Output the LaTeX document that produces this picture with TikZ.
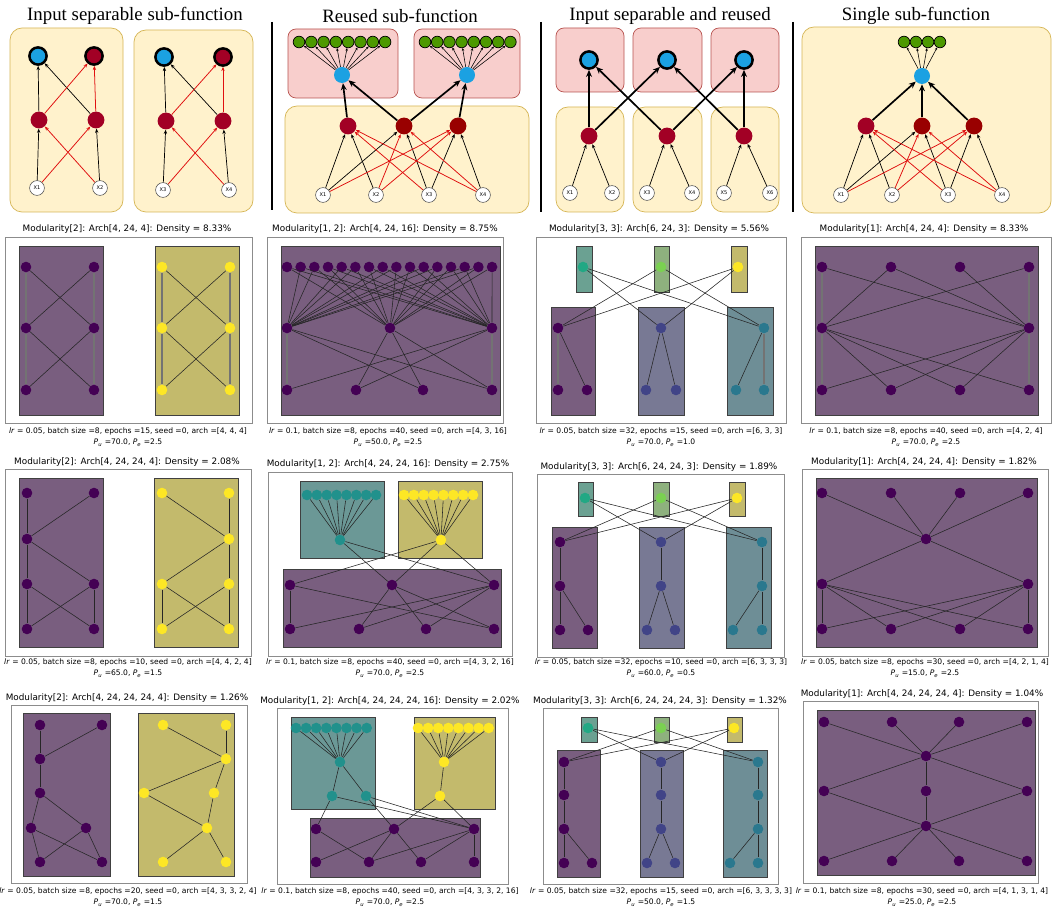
\documentclass[tikz,border=0pt]{standalone}
\usepackage{fontspec}
\setmainfont{Liberation Serif}
\setsansfont{DejaVu Sans}
\usetikzlibrary{arrows.meta}

\definecolor{vpurple}{HTML}{440154}
\definecolor{vindigo}{HTML}{414487}
\definecolor{vblue}{HTML}{2A788E}
\definecolor{vteal}{HTML}{21918C}
\definecolor{vgreen}{HTML}{22A884}
\definecolor{vlime}{HTML}{7AD151}
\definecolor{vyellow}{HTML}{FDE725}
\definecolor{bggrey}{RGB}{156,156,156}
\definecolor{boxyellow}{HTML}{FFF2CC}
\definecolor{boxyellowline}{HTML}{D6B656}
\definecolor{boxpink}{HTML}{F8CECC}
\definecolor{boxpinkline}{HTML}{B85450}
\definecolor{outblue}{HTML}{1BA1E2}
\definecolor{crimson}{HTML}{A20025}
\definecolor{darkred}{HTML}{990000}
\definecolor{leafgreen}{HTML}{4D9900}
\definecolor{edgered}{HTML}{E01010}

\tikzset{
    yellowbox/.style={draw=boxyellowline, fill=boxyellow, rounded corners=0.3cm, line width=0.5pt},
    pinkbox/.style={draw=boxpinkline, fill=boxpink, rounded corners=0.2cm, line width=0.5pt},
    outnode/.style={circle, draw=black, line width=1.8pt, fill=#1, minimum size=0.43cm, inner sep=0pt},
    hidnode/.style={circle, fill=#1, minimum size=0.42cm, inner sep=0pt},
    bluenode/.style={circle, fill=outblue, minimum size=0.4cm, inner sep=0pt},
    leafnode/.style={circle, draw=black, line width=0.5pt, fill=leafgreen, minimum size=0.29cm, inner sep=0pt},
    innode/.style={circle, draw=black!70, line width=0.4pt, fill=white, minimum size=0.37cm, inner sep=0pt, font=\sffamily\fontsize{3.6}{4}\selectfont},
    thinarrow/.style={draw=black, line width=0.5pt, -{Stealth[length=3pt,width=2.4pt]}},
    redarrow/.style={draw=edgered, line width=0.55pt, -{Stealth[length=3pt,width=2.4pt]}},
    thickarrow/.style={draw=black, line width=1.2pt, -{Stealth[length=5pt,width=4.2pt]}},
    leafarrow/.style={draw=black, line width=0.4pt, -{Stealth[length=2pt,width=1.8pt]}},
    sepline/.style={draw=black, line width=1.8pt},
    axframe/.style={draw=black!45, line width=0.6pt},
    gbox/.style={draw=black!75, line width=0.6pt, fill=#1!40!bggrey},
    gnode/.style={circle, fill=#1, minimum size=0.265cm, inner sep=0pt},
    gedge/.style={draw=black!85, line width=0.4pt},
    vedge/.style={draw=black!55, line width=1.2pt},
    toptitle/.style={font=\fontsize{13.4}{16}\selectfont},
    ptitle/.style={font=\sffamily\fontsize{6.3}{7.5}\selectfont},
    pcap/.style={font=\sffamily\fontsize{5.4}{7.8}\selectfont, align=center}
}

\newcommand{\hparams}[6]{\textit{lr}~=~#1, batch size =#2, epochs =#3, seed =0, arch =[#4]\\\textit{P}\textsubscript{\textit{u}} =#5, \textit{P}\textsubscript{\textit{e}} =#6}

\begin{document}
\begin{tikzpicture}[x=0.025cm, y=-0.025cm]
        \fill[white] (0,0) rectangle (1053,911);
        \useasboundingbox (0,0) rectangle (1053,911);

        \node[toptitle] (title1) at (135,16) {Input separable sub-function};
        \draw[yellowbox] (10,28) rectangle (123,212);
        \draw[yellowbox] (134,30) rectangle (253,212);
        \node[outnode=outblue] (t1o1) at (38,56) {};
        \node[outnode=crimson] (t1o2) at (94,56) {};
        \node[outnode=outblue] (t1o3) at (164,57) {};
        \node[outnode=crimson] (t1o4) at (223,57) {};
        \node[hidnode=crimson] (t1h1) at (39,120) {};
        \node[hidnode=crimson] (t1h2) at (96,120) {};
        \node[hidnode=crimson] (t1h3) at (166,121) {};
        \node[hidnode=crimson] (t1h4) at (223,121) {};
        \node[innode] (t1x1) at (37,188) {X1};
        \node[innode] (t1x2) at (100,188) {X2};
        \node[innode] (t1x3) at (163,190) {X3};
        \node[innode] (t1x4) at (229,190) {X4};
        \foreach \p/\q in {x1/h1, x2/h2, h1/o1, h2/o1, x3/h3, x4/h4, h3/o3, h4/o3}
            \draw[thinarrow] (t1\p) -- (t1\q);
        \foreach \p/\q in {x1/h2, x2/h1, h1/o2, h2/o2, x3/h4, x4/h3, h3/o4, h4/o4}
            \draw[redarrow] (t1\p) -- (t1\q);
        \draw[sepline] (272,22) -- (272,210);

        \node[toptitle] (title2) at (400,16) {Reused sub-function};
        \draw[pinkbox] (288,29) rectangle (398,98);
        \draw[pinkbox] (414,29) rectangle (520,98);
        \draw[yellowbox] (285,106) rectangle (529,213);
        \foreach \i in {1,...,8} {
            \node[leafnode] (t2g\i) at ({299+12.3*(\i-1)},42) {};
            \node[leafnode] (t2k\i) at ({425+12.2*(\i-1)},42) {};
        }
        \node[bluenode] (t2b1) at (342,75) {};
        \node[bluenode] (t2b2) at (467,75) {};
        \node[hidnode=crimson] (t2h1) at (348,126) {};
        \node[hidnode=darkred] (t2h2) at (404,126) {};
        \node[hidnode=darkred] (t2h3) at (458,126) {};
        \node[innode] (t2x1) at (323,195) {X1};
        \node[innode] (t2x2) at (376,195) {X2};
        \node[innode] (t2x3) at (429,195) {X3};
        \node[innode] (t2x4) at (483,195) {X4};
        \foreach \i in {1,...,8} {
            \draw[leafarrow] (t2b1) -- (t2g\i);
            \draw[leafarrow] (t2b2) -- (t2k\i);
        }
        \foreach \p/\q in {h1/b1, h2/b1, h2/b2, h3/b2}
            \draw[thickarrow] (t2\p) -- (t2\q);
        \foreach \p/\q in {x1/h1, x1/h2, x2/h1, x3/h2, x3/h3, x4/h3}
            \draw[thinarrow] (t2\p) -- (t2\q);
        \foreach \p/\q in {x1/h3, x2/h2, x2/h3, x3/h1, x4/h1, x4/h2}
            \draw[redarrow] (t2\p) -- (t2\q);
        \draw[sepline] (541,22) -- (541,212);

        \node[toptitle] (title3) at (670,16) {Input separable and reused};
        \foreach \a/\b in {556/624, 633/702, 711/779} {
            \draw[pinkbox] (\a,28) rectangle (\b,92);
            \draw[yellowbox] (\a,107) rectangle (\b,212);
        }
        \foreach \i/\x in {1/589, 2/667, 3/744} {
            \node[outnode=outblue] (t3o\i) at (\x,60) {};
            \node[hidnode=crimson] (t3h\i) at (\x,136) {};
        }
        \foreach \i/\x in {1/570, 2/612, 3/647, 4/692, 5/724, 6/770}
            \node[innode] (t3x\i) at (\x,193) {X\i};
        \foreach \p/\q in {x1/h1, x2/h1, x3/h2, x4/h2, x5/h3, x6/h3}
            \draw[thinarrow] (t3\p) -- (t3\q);
        \foreach \p/\q in {h1/o1, h1/o2, h2/o1, h2/o3, h3/o2, h3/o3}
            \draw[thickarrow] (t3\p) -- (t3\q);
        \draw[sepline] (793,22) -- (793,212);

        \node[toptitle] (title4) at (916,16) {Single sub-function};
        \draw[yellowbox] (802,27) rectangle (1051,213);
        \foreach \i in {1,...,4}
            \node[leafnode] (t4g\i) at ({904+12*(\i-1)},42) {};
        \node[bluenode] (t4b) at (922,76) {};
        \node[hidnode=crimson] (t4h1) at (866,126) {};
        \node[hidnode=darkred] (t4h2) at (922,126) {};
        \node[hidnode=darkred] (t4h3) at (974,126) {};
        \node[innode] (t4x1) at (841,195) {X1};
        \node[innode] (t4x2) at (892,195) {X2};
        \node[innode] (t4x3) at (948,195) {X3};
        \node[innode] (t4x4) at (1002,195) {X4};
        \foreach \i in {1,...,4}
            \draw[leafarrow] (t4b) -- (t4g\i);
        \foreach \i in {1,2,3}
            \draw[thickarrow] (t4h\i) -- (t4b);
        \foreach \p/\q in {x1/h1, x1/h2, x2/h1, x3/h2, x3/h3, x4/h3}
            \draw[thinarrow] (t4\p) -- (t4\q);
        \foreach \p/\q in {x1/h3, x2/h2, x2/h3, x3/h1, x4/h1, x4/h2}
            \draw[redarrow] (t4\p) -- (t4\q);

        \node[ptitle] (a1title) at (127,229) {Modularity[2]: Arch[4, 24, 4]: Density = 8.33\%};
        \draw[axframe] (5,237) rectangle (252,423);
        \draw[gbox=vpurple] (19,246) rectangle (103,415);
        \draw[gbox=vyellow] (155,246) rectangle (239,415);
        \foreach \i/\x/\y in {1/26/267, 2/94/267, 3/26/328, 4/94/328, 5/26/390, 6/94/390} {
            \node[gnode=vpurple] (a1p\i) at (\x,\y) {};
            \node[gnode=vyellow] (a1y\i) at (\x+136,\y) {};
        }
        \foreach \p/\q in {1/3, 2/4, 3/5, 4/6} {
            \draw[vedge] (a1p\p) -- (a1p\q);
            \draw[vedge] (a1y\p) -- (a1y\q);
        }
        \foreach \p/\q in {1/4, 2/3, 3/6, 4/5} {
            \draw[gedge] (a1p\p) -- (a1p\q);
            \draw[gedge] (a1y\p) -- (a1y\q);
        }
        \node[pcap] (a1cap) at (128,437) {\hparams{0.05}{8}{15}{4, 4, 4}{70.0}{2.5}};

        \node[ptitle] (b1title) at (385,229) {Modularity[1, 2]: Arch[4, 24, 16]: Density = 8.75\%};
        \draw[axframe] (267,237) rectangle (503,423);
        \draw[gbox=vpurple] (281,246) rectangle (500,415);
        \foreach \i in {1,...,16}
            \node[gnode=vpurple] (b1t\i) at ({287+13.67*(\i-1)},267) {};
        \foreach \i/\x in {1/287, 2/390, 3/492}
            \node[gnode=vpurple] (b1m\i) at (\x,328) {};
        \foreach \i/\x in {1/287, 2/356, 3/423, 4/492}
            \node[gnode=vpurple] (b1q\i) at (\x,390) {};
        \foreach \i/\u/\v in {1/2/3, 2/1/3, 3/1/2, 4/2/3, 5/1/3, 6/1/2, 7/2/3, 8/1/3, 9/1/2, 10/2/3, 11/1/3, 12/1/2, 13/2/3, 14/1/3, 15/1/2, 16/2/3} {
            \draw[gedge] (b1m\u) -- (b1t\i);
            \draw[gedge] (b1m\v) -- (b1t\i);
        }
        \foreach \p/\q in {1/3, 1/4, 2/2, 2/3, 2/4, 3/1, 3/2}
            \draw[gedge] (b1m\p) -- (b1q\q);
        \draw[vedge] (b1m1) -- (b1q1);
        \draw[vedge] (b1m3) -- (b1q4);
        \node[pcap] (b1cap) at (388,437) {\hparams{0.1}{8}{40}{4, 3, 16}{50.0}{2.5}};

        \node[ptitle] (c1title) at (659,229) {Modularity[3, 3]: Arch[6, 24, 3]: Density = 5.56\%};
        \draw[axframe] (536,237) rectangle (786,423);
        \draw[gbox=vgreen] (576,246) rectangle (592,292);
        \draw[gbox=vlime] (654,246) rectangle (669,292);
        \draw[gbox=vyellow] (731,246) rectangle (747,292);
        \draw[gbox=vpurple] (551,307) rectangle (595,415);
        \draw[gbox=vindigo] (638,307) rectangle (684,415);
        \draw[gbox=vblue] (727,307) rectangle (773,415);
        \node[gnode=vgreen] (c1s1) at (583,267) {};
        \node[gnode=vlime] (c1s2) at (661,267) {};
        \node[gnode=vyellow] (c1s3) at (738,267) {};
        \node[gnode=vpurple] (c1l1) at (558,328) {};
        \node[gnode=vpurple] (c1l2) at (558,390) {};
        \node[gnode=vpurple] (c1l3) at (587,390) {};
        \node[gnode=vindigo] (c1m1) at (661,328) {};
        \node[gnode=vindigo] (c1m2) at (646,390) {};
        \node[gnode=vindigo] (c1m3) at (676,390) {};
        \node[gnode=vblue] (c1r1) at (764,328) {};
        \node[gnode=vblue] (c1r2) at (736,390) {};
        \node[gnode=vblue] (c1r3) at (764,390) {};
        \foreach \p/\q in {s1/m1, s1/r1, s2/l1, s2/r1, s3/l1, s3/m1, l1/l3, m1/m2, m1/m3, r1/r2}
            \draw[gedge] (c1\p) -- (c1\q);
        \draw[vedge] (c1l1) -- (c1l2);
        \draw[vedge] (c1r1) -- (c1r3);
        \node[pcap] (c1cap) at (661,437) {\hparams{0.05}{32}{15}{6, 3, 3}{70.0}{1.0}};

        \node[ptitle] (d1title) at (924,229) {Modularity[1]: Arch[4, 24, 4]: Density = 8.33\%};
        \draw[axframe] (801,237) rectangle (1051,423);
        \draw[gbox=vpurple] (815,246) rectangle (1038,415);
        \foreach \i/\x in {1/822, 2/891, 3/960, 4/1029} {
            \node[gnode=vpurple] (d1t\i) at (\x,267) {};
            \node[gnode=vpurple] (d1q\i) at (\x,390) {};
        }
        \node[gnode=vpurple] (d1m1) at (822,328) {};
        \node[gnode=vpurple] (d1m2) at (1029,328) {};
        \foreach \p/\q in {1/2, 1/4, 2/1, 2/2, 2/3}
            \draw[gedge] (d1m\p) -- (d1t\q);
        \foreach \p/\q in {1/2, 1/3, 1/4, 2/1, 2/2, 2/3}
            \draw[gedge] (d1m\p) -- (d1q\q);
        \draw[vedge] (d1m1) -- (d1t1);
        \draw[vedge] (d1m2) -- (d1t4);
        \draw[vedge] (d1m1) -- (d1q1);
        \draw[vedge] (d1m2) -- (d1q4);
        \node[pcap] (d1cap) at (926,437) {\hparams{0.1}{8}{40}{4, 2, 4}{70.0}{2.5}};

        \node[ptitle] (a2title) at (127,462) {Modularity[2]: Arch[4, 24, 24, 4]: Density = 2.08\%};
        \draw[axframe] (5,469) rectangle (251,656);
        \draw[gbox=vpurple] (19,478) rectangle (103,647);
        \draw[gbox=vyellow] (154,478) rectangle (238,647);
        \foreach \i/\x/\y in {1/27/493, 2/94/493, 3/27/539, 4/27/584, 5/94/584, 6/27/629, 7/94/629}
            \node[gnode=vpurple] (a2p\i) at (\x,\y) {};
        \foreach \i/\x/\y in {1/162/493, 2/229/493, 3/229/539, 4/162/584, 5/229/584, 6/162/629, 7/229/629}
            \node[gnode=vyellow] (a2y\i) at (\x,\y) {};
        \foreach \p/\q in {1/3, 2/3, 3/4, 3/5, 4/6, 4/7, 5/6, 5/7} {
            \draw[gedge] (a2p\p) -- (a2p\q);
            \draw[gedge] (a2y\p) -- (a2y\q);
        }
        \node[pcap] (a2cap) at (128,668) {\hparams{0.05}{8}{10}{4, 4, 2, 4}{65.0}{1.5}};

        \node[ptitle] (b2title) at (388,464) {Modularity[1, 2]: Arch[4, 24, 24, 16]: Density = 2.75\%};
        \draw[axframe] (268,472) rectangle (512,656);
        \draw[gbox=vteal] (300,481) rectangle (384,558);
        \draw[gbox=vyellow] (398,481) rectangle (482,558);
        \draw[gbox=vpurple] (283,569) rectangle (501,647);
        \foreach \i in {1,...,8} {
            \node[gnode=vteal] (b2g\i) at ({307+9.86*(\i-1)},495) {};
            \node[gnode=vyellow] (b2h\i) at ({404+9.86*(\i-1)},495) {};
        }
        \node[gnode=vteal] (b2tm) at (340,540) {};
        \node[gnode=vyellow] (b2ym) at (441,540) {};
        \foreach \i/\x in {1/290, 2/392, 3/494}
            \node[gnode=vpurple] (b2m\i) at (\x,585) {};
        \foreach \i/\x in {1/290, 2/359, 3/426, 4/494}
            \node[gnode=vpurple] (b2q\i) at (\x,629) {};
        \foreach \i in {1,...,8} {
            \draw[gedge] (b2tm) -- (b2g\i);
            \draw[gedge] (b2ym) -- (b2h\i);
        }
        \foreach \p/\q in {tm/m2, tm/m3, ym/m1, ym/m2, ym/m3}
            \draw[gedge] (b2\p) -- (b2\q);
        \foreach \p/\q in {1/1, 1/4, 2/2, 2/3, 2/4, 3/1, 3/2, 3/3}
            \draw[gedge] (b2m\p) -- (b2q\q);
        \node[pcap] (b2cap) at (390,668) {\hparams{0.1}{8}{40}{4, 3, 2, 16}{70.0}{2.5}};

        \node[ptitle] (c2title) at (659,467) {Modularity[3, 3]: Arch[6, 24, 24, 3]: Density = 1.89\%};
        \draw[axframe] (537,474) rectangle (784,657);
        \draw[gbox=vgreen] (578,482) rectangle (593,516);
        \draw[gbox=vlime] (653,482) rectangle (669,516);
        \draw[gbox=vyellow] (729,482) rectangle (745,516);
        \draw[gbox=vpurple] (552,527) rectangle (597,648);
        \draw[gbox=vindigo] (639,527) rectangle (684,648);
        \draw[gbox=vblue] (726,527) rectangle (771,648);
        \node[gnode=vgreen] (c2s1) at (585,498) {};
        \node[gnode=vlime] (c2s2) at (661,498) {};
        \node[gnode=vyellow] (c2s3) at (737,498) {};
        \foreach \i/\x/\y in {1/560/542, 2/560/586, 3/560/630, 4/588/630}
            \node[gnode=vpurple] (c2l\i) at (\x,\y) {};
        \foreach \i/\x/\y in {1/661/542, 2/661/586, 3/647/630, 4/675/630}
            \node[gnode=vindigo] (c2m\i) at (\x,\y) {};
        \foreach \i/\x/\y in {1/762/542, 2/762/586, 3/733/630, 4/762/630}
            \node[gnode=vblue] (c2r\i) at (\x,\y) {};
        \foreach \p/\q in {s1/m1, s1/r1, s2/l1, s2/r1, s3/l1, s3/m1, l1/l2, l2/l3, l2/l4, m1/m2, m2/m3, m2/m4, r1/r2, r2/r3, r2/r4}
            \draw[gedge] (c2\p) -- (c2\q);
        \node[pcap] (c2cap) at (661,668) {\hparams{0.05}{32}{10}{6, 3, 3, 3}{60.0}{0.5}};

        \node[ptitle] (d2title) at (924,462) {Modularity[1]: Arch[4, 24, 24, 4]: Density = 1.82\%};
        \draw[axframe] (802,469) rectangle (1048,656);
        \draw[gbox=vpurple] (816,478) rectangle (1037,647);
        \foreach \i/\x in {1/822, 2/891, 3/960, 4/1028} {
            \node[gnode=vpurple] (d2t\i) at (\x,493) {};
            \node[gnode=vpurple] (d2q\i) at (\x,629) {};
        }
        \node[gnode=vpurple] (d2c) at (926,539) {};
        \node[gnode=vpurple] (d2m1) at (822,584) {};
        \node[gnode=vpurple] (d2m2) at (1028,584) {};
        \foreach \i in {1,...,4} {
            \draw[gedge] (d2c) -- (d2t\i);
            \draw[gedge] (d2m1) -- (d2q\i);
            \draw[gedge] (d2m2) -- (d2q\i);
        }
        \draw[gedge] (d2c) -- (d2m1);
        \draw[gedge] (d2c) -- (d2m2);
        \node[pcap] (d2cap) at (925,668) {\hparams{0.05}{8}{30}{4, 2, 1, 4}{15.0}{2.5}};

        \node[ptitle] (a3title) at (127,698) {Modularity[2]: Arch[4, 24, 24, 24, 4]: Density = 1.26\%};
        \draw[axframe] (11,705) rectangle (247,883);
        \draw[gbox=vpurple] (23,713) rectangle (110,876);
        \draw[gbox=vyellow] (138,713) rectangle (234,876);
        \foreach \i/\x/\y in {1/40/725, 2/102/725, 3/40/759, 4/40/793, 5/31/828, 6/86/828, 7/40/862, 8/102/862}
            \node[gnode=vpurple] (a3p\i) at (\x,\y) {};
        \foreach \i/\x/\y in {1/163/725, 2/226/725, 3/226/759, 4/144/793, 5/214/793, 6/207/828, 7/163/862, 8/226/862}
            \node[gnode=vyellow] (a3y\i) at (\x,\y) {};
        \foreach \p/\q in {1/3, 2/3, 3/4, 4/5, 4/6, 5/7, 5/8, 6/7, 6/8}
            \draw[gedge] (a3p\p) -- (a3p\q);
        \foreach \p/\q in {1/3, 2/3, 3/4, 3/5, 4/6, 5/6, 6/7, 6/8}
            \draw[gedge] (a3y\p) -- (a3y\q);
        \node[pcap] (a3cap) at (128,897) {\hparams{0.05}{8}{20}{4, 3, 3, 2, 4}{70.0}{1.5}};

        \node[ptitle] (b3title) at (390,701) {Modularity[1, 2]: Arch[4, 24, 24, 24, 16]: Density = 2.02\%};
        \draw[axframe] (277,708) rectangle (508,884);
        \draw[gbox=vteal] (291,717) rectangle (375,809);
        \draw[gbox=vyellow] (414,717) rectangle (495,809);
        \draw[gbox=vpurple] (310,818) rectangle (480,877);
        \foreach \i in {1,...,8} {
            \node[gnode=vteal] (b3g\i) at ({296+10.1*(\i-1)},728) {};
            \node[gnode=vyellow] (b3h\i) at ({418+10.1*(\i-1)},728) {};
        }
        \node[gnode=vteal] (b3tm) at (340,762) {};
        \node[gnode=vteal] (b3ta) at (332,796) {};
        \node[gnode=vteal] (b3tb) at (366,796) {};
        \node[gnode=vyellow] (b3ym) at (444,762) {};
        \node[gnode=vyellow] (b3yl) at (440,796) {};
        \foreach \i/\x in {1/316, 2/394, 3/474}
            \node[gnode=vpurple] (b3m\i) at (\x,829) {};
        \foreach \i/\x in {1/316, 2/369, 3/421, 4/474}
            \node[gnode=vpurple] (b3q\i) at (\x,862) {};
        \foreach \i in {1,...,8} {
            \draw[gedge] (b3tm) -- (b3g\i);
            \draw[gedge] (b3ym) -- (b3h\i);
        }
        \foreach \p/\q in {tm/ta, tm/tb, ym/yl, ta/m1, ta/m3, tb/m2, tb/m3, yl/m2, yl/m3}
            \draw[gedge] (b3\p) -- (b3\q);
        \foreach \p/\q in {1/2, 2/1, 2/2, 2/3, 3/2, 3/3, 3/4}
            \draw[gedge] (b3m\p) -- (b3q\q);
        \node[pcap] (b3cap) at (390,897) {\hparams{0.1}{8}{40}{4, 3, 3, 2, 16}{70.0}{2.5}};

        \node[ptitle] (c3title) at (660,701) {Modularity[3, 3]: Arch[6, 24, 24, 24, 3]: Density = 1.32\%};
        \draw[axframe] (543,708) rectangle (778,884);
        \draw[gbox=vgreen] (581,717) rectangle (597,742);
        \draw[gbox=vlime] (654,717) rectangle (669,742);
        \draw[gbox=vyellow] (727,717) rectangle (742,742);
        \draw[gbox=vpurple] (557,750) rectangle (600,877);
        \draw[gbox=vindigo] (640,750) rectangle (683,877);
        \draw[gbox=vblue] (723,750) rectangle (767,877);
        \node[gnode=vgreen] (c3s1) at (588,728) {};
        \node[gnode=vlime] (c3s2) at (661,728) {};
        \node[gnode=vyellow] (c3s3) at (734,728) {};
        \foreach \i/\x/\y in {1/564/762, 2/564/795, 3/564/829, 4/564/863, 5/592/863}
            \node[gnode=vpurple] (c3l\i) at (\x,\y) {};
        \foreach \i/\x/\y in {1/661/762, 2/661/795, 3/661/829, 4/647/863, 5/675/863}
            \node[gnode=vindigo] (c3m\i) at (\x,\y) {};
        \foreach \i/\x/\y in {1/758/762, 2/758/795, 3/758/829, 4/730/863, 5/758/863}
            \node[gnode=vblue] (c3r\i) at (\x,\y) {};
        \foreach \p/\q in {s1/m1, s1/r1, s2/l1, s2/r1, s3/l1, s3/m1}
            \draw[gedge] (c3\p) -- (c3\q);
        \foreach \g in {l, m, r}
            \foreach \p/\q in {1/2, 2/3, 3/4, 3/5}
                \draw[gedge] (c3\g\p) -- (c3\g\q);
        \node[pcap] (c3cap) at (661,897) {\hparams{0.05}{32}{15}{6, 3, 3, 3, 3}{50.0}{1.5}};

        \node[ptitle] (d3title) at (922,694) {Modularity[1]: Arch[4, 24, 24, 24, 4]: Density = 1.04\%};
        \draw[axframe] (803,701) rectangle (1038,883);
        \draw[gbox=vpurple] (817,710) rectangle (1035,875);
        \foreach \i/\x in {1/824, 2/892, 3/959, 4/1027} {
            \node[gnode=vpurple] (d3t\i) at (\x,722) {};
            \node[gnode=vpurple] (d3q\i) at (\x,861) {};
        }
        \node[gnode=vpurple] (d3u) at (926,756) {};
        \node[gnode=vpurple] (d3w) at (926,826) {};
        \foreach \i/\x in {1/824, 2/926, 3/1027}
            \node[gnode=vpurple] (d3m\i) at (\x,791) {};
        \foreach \i in {1,...,4} {
            \draw[gedge] (d3u) -- (d3t\i);
            \draw[gedge] (d3w) -- (d3q\i);
        }
        \foreach \i in {1,2,3} {
            \draw[gedge] (d3u) -- (d3m\i);
            \draw[gedge] (d3m\i) -- (d3w);
        }
        \node[pcap] (d3cap) at (922,897) {\hparams{0.1}{8}{30}{4, 1, 3, 1, 4}{25.0}{2.5}};
    \end{tikzpicture}
\end{document}
